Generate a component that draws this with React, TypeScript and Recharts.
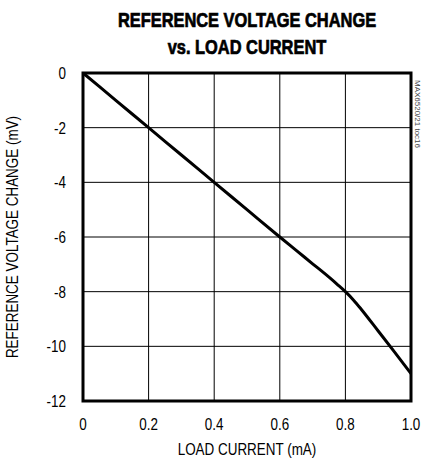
import React from "react";
import { LineChart, Line, XAxis, YAxis, CartesianGrid, ReferenceArea } from "recharts";

const loadCurrent = [0, 0.1, 0.2, 0.3, 0.4, 0.5, 0.6, 0.65, 0.7, 0.75, 0.775, 0.8, 0.825, 0.85, 0.9, 0.95, 1.0];
const voltageChange = [0, -1, -2, -3, -4, -5, -6, -6.49, -6.98, -7.47, -7.73, -8.0, -8.31, -8.67, -9.44, -10.21, -11.0];
const xTicks = [0, 0.2, 0.4, 0.6, 0.8, 1.0];
const yTicks = [0, -2, -4, -6, -8, -10, -12];
const titleLines = ["REFERENCE VOLTAGE CHANGE", "vs. LOAD CURRENT"];
const xLabel = "LOAD CURRENT (mA)";
const yLabel = "REFERENCE VOLTAGE CHANGE (mV)";
const sideNote = "MAX6520/21 toc16";

const data = loadCurrent.map((x, i) => ({ x, y: voltageChange[i] }));

const FONT = "'Liberation Sans', Arial, sans-serif";
const SQUEEZE = 0.84;

const XTick = (props: any) => {
  const { x, y, payload } = props;
  const v: number = payload.value;
  const label = v === 0 ? "0" : v.toFixed(1);
  return (
    <text
      transform={`translate(${x},${y + 29}) scale(${SQUEEZE},1)`}
      textAnchor="middle"
      fill="#000"
      fontSize={16}
      fontFamily={FONT}
    >
      {label}
    </text>
  );
};

const YTick = (props: any) => {
  const { y, payload } = props;
  return (
    <text
      transform={`translate(66,${y + 6}) scale(${SQUEEZE},1)`}
      textAnchor="end"
      fill="#000"
      fontSize={16}
      fontFamily={FONT}
    >
      {String(payload.value)}
    </text>
  );
};

export default function App() {
  return (
    <div style={{ position: "absolute", left: 0, top: 0, width: 421, height: 460, background: "#fff", fontFamily: FONT, overflow: "hidden" }}>
      <LineChart width={421} height={460} data={data} margin={{ top: 73, right: 10, bottom: 29, left: 0 }}>
        <CartesianGrid stroke="#000" strokeWidth={1} horizontalValues={yTicks} verticalValues={xTicks} />
        <XAxis
          dataKey="x"
          type="number"
          domain={[0, 1]}
          ticks={xTicks}
          axisLine={false}
          tickLine={false}
          tickSize={0}
          tickMargin={0}
          height={30}
          tick={<XTick />}
          interval={0}
        />
        <YAxis
          dataKey="y"
          type="number"
          domain={[-12, 0]}
          ticks={yTicks}
          width={83}
          axisLine={false}
          tickLine={false}
          tickSize={0}
          tickMargin={0}
          tick={<YTick />}
          interval={0}
        />
        <ReferenceArea x1={0} x2={1} y1={-12} y2={0} fill="none" fillOpacity={0} stroke="#000" strokeWidth={3} />
        <Line type="monotone" dataKey="y" stroke="#000" strokeWidth={3} dot={false} isAnimationActive={false} />
      </LineChart>
      {titleLines.map((t, i) => (
        <div
          key={i}
          style={{
            position: "absolute",
            left: 47,
            width: 400,
            top: 8 + i * 27,
            textAlign: "center",
            fontSize: 20,
            fontWeight: "bold",
            lineHeight: "24px",
            color: "#000",
            whiteSpace: "nowrap",
            transform: "scaleX(0.82)",
            WebkitTextStroke: "0.7px #000",
          }}
        >
          {t}
        </div>
      ))}
      <div
        style={{
          position: "absolute",
          left: 47,
          width: 400,
          top: 440,
          textAlign: "center",
          fontSize: 16,
          lineHeight: "20px",
          color: "#000",
          whiteSpace: "nowrap",
          transform: `scaleX(${SQUEEZE})`,
        }}
      >
        {xLabel}
      </div>
      <div
        style={{
          position: "absolute",
          left: 13 - 150,
          top: 237 - 10,
          width: 300,
          height: 20,
          textAlign: "center",
          fontSize: 16,
          lineHeight: "20px",
          color: "#000",
          transform: `rotate(-90deg) scaleX(${SQUEEZE})`,
          whiteSpace: "nowrap",
        }}
      >
        {yLabel}
      </div>
      <div
        style={{
          position: "absolute",
          left: 417 - 50,
          top: 114 - 5,
          width: 100,
          height: 10,
          textAlign: "center",
          fontSize: 8,
          lineHeight: "10px",
          color: "#444",
          transform: "rotate(90deg)",
          whiteSpace: "nowrap",
        }}
      >
        {sideNote}
      </div>
    </div>
  );
}
